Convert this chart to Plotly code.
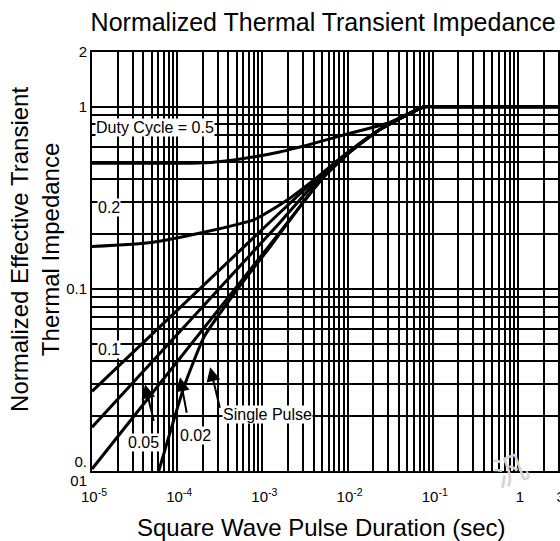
import math
import plotly.graph_objects as go

# ---- data ----
x_d05 = [1e-5, 1e-4, 2.5e-4, 6e-4, 1.6e-3, 4e-3, 1e-2, 3e-2, 8e-2, 0.12, 0.3, 1, 5]
y_d05 = [0.49, 0.49, 0.495, 0.52, 0.565, 0.63, 0.71, 0.815, 1.0, 1.0, 1.0, 1.0, 1.0]

x_d02 = [1e-5, 5e-5, 2e-4, 8e-4, 2e-3, 5e-3, 1e-2, 2.4e-2, 8e-2, 0.12, 0.3, 1, 5]
y_d02 = [0.171, 0.18, 0.204, 0.24, 0.31, 0.43, 0.56, 0.75, 1.0, 1.0, 1.0, 1.0, 1.0]

x_d01 = [1e-5, 1.6e-3, 5e-3, 1e-2, 2.4e-2, 8e-2, 0.12, 0.3, 1, 5]
y_d01 = [0.0274, 0.262, 0.43, 0.56, 0.75, 1.0, 1.0, 1.0, 1.0, 1.0]

x_d005 = [1e-5, 1.6e-3, 5e-3, 1e-2, 2.4e-2, 8e-2, 0.12, 0.3, 1, 5]
y_d005 = [0.0174, 0.231, 0.42, 0.555, 0.75, 1.0, 1.0, 1.0, 1.0, 1.0]

x_d002 = [1e-5, 1.6e-3, 5e-3, 1e-2, 2.4e-2, 8e-2, 0.12, 0.3, 1, 5]
y_d002 = [0.01026, 0.204, 0.40, 0.55, 0.75, 1.0, 1.0, 1.0, 1.0, 1.0]

x_single = [6.0e-5, 1.21e-4, 2.08e-4, 5.08e-4, 1.24e-3, 4.8e-3, 1e-2, 2.4e-2, 8e-2,
            0.12, 0.3, 1, 5]
y_single = [0.0098, 0.0292, 0.0548, 0.0993, 0.171, 0.398, 0.55, 0.75, 1.0,
            1.0, 1.0, 1.0, 1.0]

# grid / tick definitions
x_tickvals = [m * 10.0 ** e for e in range(-5, 0) for m in range(1, 10)] + [1, 2, 3]
x_label_map = {1e-5: "10<sup>-5</sup>", 1e-4: "10<sup>-4</sup>", 1e-3: "10<sup>-3</sup>",
               1e-2: "10<sup>-2</sup>", 1e-1: "10<sup>-1</sup>", 1: "1", 3: "3"}
y_tickvals = [m * 10.0 ** e for e in range(-2, 0) for m in range(1, 10)] + [1, 2]
y_label_map = {0.01: "0.<br>01", 0.1: "0.1", 1: "1", 2: "2"}


def labels(vals, mapping):
    out = []
    for v in vals:
        txt = ""
        for k, t in mapping.items():
            if abs(v - k) / k < 1e-6:
                txt = t
        out.append(txt)
    return out


# label annotations: (text, x, y, anchor)
curve_labels = [
    ("Duty Cycle = 0.5", 1.07e-5, 0.767, "left"),
    ("0.2", 1.14e-5, 0.279, "left"),
    ("0.1", 1.14e-5, 0.0466, "left"),
    ("0.05", 3.98e-5, 0.0144, "center"),
    ("0.02", 1.63e-4, 0.0157, "center"),
    ("Single Pulse", 1.15e-3, 0.0205, "center"),
]
# arrows: head position (data) and tail offset (px)
arrows = [
    (4.2e-5, 0.0299, 9, 38),
    (1.08e-4, 0.0327, 7, 37),
    (2.44e-4, 0.0371, 10, 42),
]

fig = go.Figure()
line_style = dict(color="black", width=3, shape="spline", smoothing=0.5)
for xs, ys, nm in [(x_d05, y_d05, "0.5"), (x_d02, y_d02, "0.2"), (x_d01, y_d01, "0.1"),
                   (x_d005, y_d005, "0.05"), (x_d002, y_d002, "0.02"),
                   (x_single, y_single, "Single Pulse")]:
    fig.add_trace(go.Scatter(x=xs, y=ys, mode="lines", name=nm, line=line_style,
                             showlegend=False, hoverinfo="skip"))

FONT = "Liberation Sans, Arial, sans-serif"
for txt, x, y, anc in curve_labels:
    fig.add_annotation(x=math.log10(x), y=math.log10(y), xref="x", yref="y", text=txt,
                       showarrow=False, xanchor=anc, yanchor="middle", bgcolor="white",
                       borderpad=0, font=dict(family=FONT, size=16, color="black"))
for hx, hy, ax, ay in arrows:
    fig.add_annotation(x=math.log10(hx), y=math.log10(hy), xref="x", yref="y", text="",
                       showarrow=True, ax=ax, ay=ay, arrowhead=2, arrowsize=1.4,
                       arrowwidth=2, arrowcolor="black")

# titles
fig.add_annotation(x=-0.1218, y=0.53, xref="paper", yref="paper",
                   text="Normalized Effective Transient<br>Thermal Impedance",
                   textangle=-90, showarrow=False, xanchor="center", yanchor="middle",
                   font=dict(family=FONT, size=24, color="black"))
fig.add_annotation(x=0.491, y=-0.134, xref="paper", yref="paper",
                   text="Square Wave Pulse Duration (sec)", showarrow=False,
                   xanchor="center", yanchor="middle",
                   font=dict(family=FONT, size=24, color="black"))
# faint watermark
fig.add_annotation(x=0.95, y=-0.07, xref="paper", yref="paper", text="汎",
                   textangle=-20, showarrow=False,
                   font=dict(family="Noto Sans CJK SC", size=34, color="#d4d4d4"))

fig.update_layout(
    width=560, height=541,
    margin=dict(l=92, r=0, t=52, b=70, autoexpand=False),
    paper_bgcolor="white", plot_bgcolor="white",
    title=dict(text="Normalized Thermal Transient Impedance", x=0.577, xref="container",
               y=1 - 22 / 541, yref="container", xanchor="center", yanchor="middle",
               font=dict(family=FONT, size=25, color="black")),
    font=dict(family=FONT, color="black"),
)
fig.update_xaxes(type="log", range=[-5, 0.494], tickmode="array", tickvals=x_tickvals,
                 ticktext=labels(x_tickvals, x_label_map), showgrid=True, gridcolor="black",
                 gridwidth=2, showline=True, linecolor="black", linewidth=2, mirror=True,
                 ticks="outside", ticklen=11, tickcolor="rgba(0,0,0,0)", zeroline=False,
                 automargin=False, ticklabeloverflow="allow",
                 tickfont=dict(family=FONT, size=15, color="black"), ticklabelshift=2)
fig.update_yaxes(type="log", range=[-2, 0.30103], tickmode="array", tickvals=y_tickvals,
                 ticktext=labels(y_tickvals, y_label_map), showgrid=True, gridcolor="black",
                 gridwidth=2, showline=True, linecolor="black", linewidth=2, mirror=True,
                 ticks="", zeroline=False, automargin=False,
                 tickfont=dict(family=FONT, size=15, color="black"))

fig.write_html("out.html", config={"displayModeBar": False},
               post_script="document.body.style.margin='0';")
